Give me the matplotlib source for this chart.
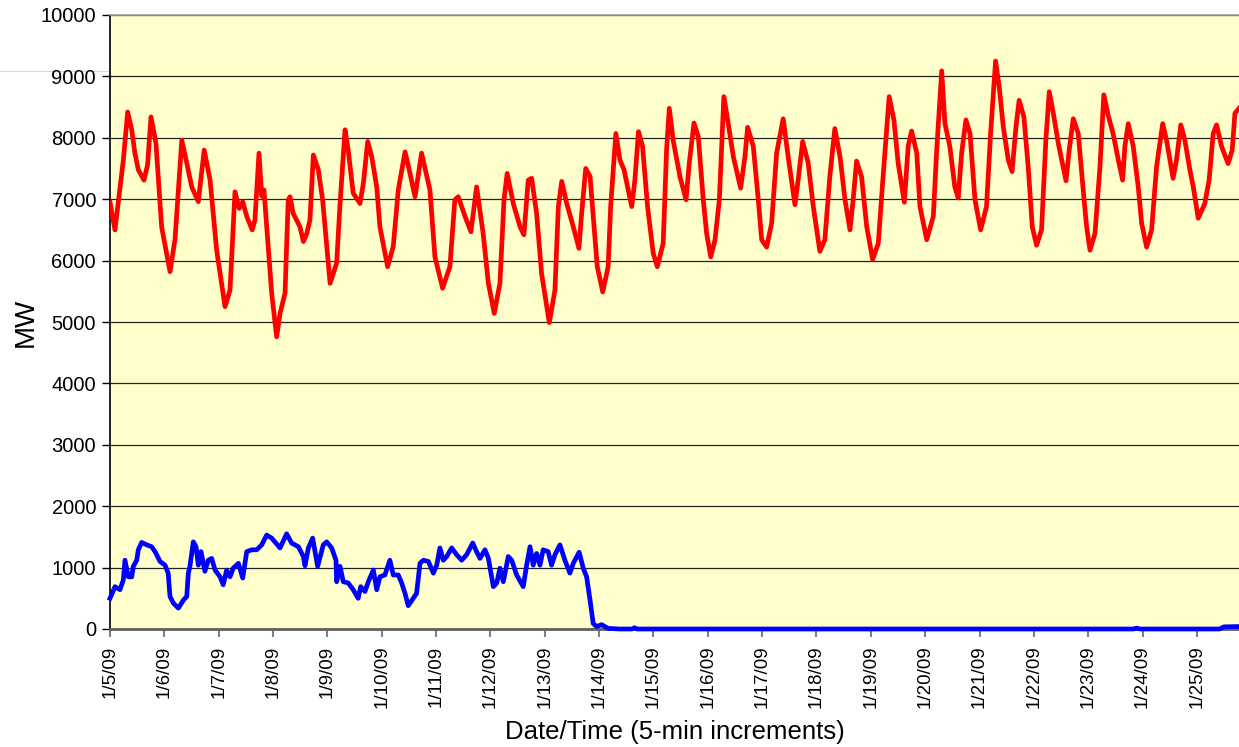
import matplotlib
matplotlib.use("Agg")
import matplotlib.pyplot as plt
from matplotlib.lines import Line2D

plt.rcParams['font.family'] = ['Liberation Sans', 'DejaVu Sans']

# Hours since 1/5/09 00:00 and load (MW)
red_hours = [0.0, 2.2, 5.9, 7.8, 9.6, 11.0, 12.5, 15.0, 16.6, 18.1, 20.3, 22.8, 26.5, 28.7, 31.7, 33.9,
             36.1, 39.0, 41.6, 44.2, 47.1, 50.8, 53.0, 55.2, 57.1, 58.6, 60.4, 62.8, 64.0, 65.8, 67.0, 68.0,
             69.2, 71.4, 73.6, 75.1, 77.3, 78.7, 79.5, 80.9, 83.9, 85.4, 86.9, 88.3, 89.8, 92.0, 93.9, 97.2,
             100.1, 101.6, 103.8, 105.2, 107.4, 110.4, 111.9, 113.8, 115.6, 117.8, 119.2, 122.6, 125.1, 127.3,
             130.3, 132.5, 134.7, 137.6, 141.3, 143.5, 146.9, 150.1, 152.3, 153.8, 156.8, 159.4, 161.9, 164.8,
             167.1, 169.7, 172.2, 174.0, 175.4, 178.1, 181.1, 182.8, 184.7, 186.2, 188.4, 190.6, 194.0, 196.5,
             198.0, 199.5, 201.7, 204.6, 207.1, 208.3, 210.1, 212.0, 213.4, 215.2, 217.6, 220.0, 221.1, 223.4,
             225.2, 227.0, 230.4, 231.8, 233.4, 235.2, 237.4, 239.9, 241.7, 244.3, 245.8, 247.0, 248.7, 251.7,
             254.4, 255.8, 257.9, 259.8, 262.0, 263.5, 265.3, 267.2, 269.1, 271.1, 273.0, 275.3, 278.5, 280.4,
             281.6, 284.1, 286.3, 287.8, 290.0, 292.2, 294.4, 297.3, 299.5, 302.5, 303.9, 305.9, 308.3, 310.6,
             313.5, 315.7, 317.9, 320.1, 322.4, 324.6, 326.8, 328.2, 329.7, 331.9, 334.2, 336.8, 339.3, 341.2,
             344.1, 346.2, 348.1, 350.8, 352.5, 354.0, 356.3, 357.7, 360.7, 363.6, 365.1, 367.3, 368.7, 370.9,
             373.1, 374.6, 376.1, 378.0, 379.8, 382.0, 384.5, 387.1, 388.9, 391.1, 392.7, 394.5, 396.7, 398.4,
             400.1, 401.5, 403.6, 405.5, 407.3, 409.2, 411.4, 413.3, 414.8, 416.6, 418.8, 422.2, 423.6, 425.4,
             427.6, 429.8, 431.3, 432.8, 435.0, 437.2, 438.9, 440.8, 443.0, 445.3, 447.2, 448.2, 449.7, 451.9,
             454.1, 455.6, 457.8, 460.0, 462.2, 464.9, 466.6, 469.5, 471.0, 472.9, 474.7, 476.9, 478.4, 480.6,
             483.5, 485.4, 487.2, 488.7, 490.9, 493.8, 495.6, 496.8, 498.6]
red_mw = [6950, 6500, 7640, 8420, 8130, 7750, 7480, 7310, 7560, 8340, 7910, 6550, 5820, 6340, 7960, 7590,
          7200, 6960, 7800, 7310, 6170, 5250, 5520, 7120, 6850, 6960, 6720, 6500, 6660, 7750, 7050, 7150,
          6550, 5470, 4760, 5140, 5470, 6990, 7040, 6770, 6550, 6310, 6440, 6660, 7720, 7480, 6990, 5630,
          5960, 6930, 8130, 7800, 7100, 6930, 7260, 7940, 7690, 7200, 6550, 5900, 6230, 7150,
          7770, 7420, 7040, 7750, 7150, 6060, 5550, 5900, 6990, 7040, 6720, 6470, 7200, 6440,
          5630, 5140, 5630, 6990, 7420, 6930, 6550, 6420, 7310, 7340, 6770, 5790, 4990, 5520,
          6880, 7290, 6930, 6550, 6200, 6770, 7500, 7370, 6720, 5900, 5490, 5900, 6880, 8070,
          7640, 7480, 6880, 7310, 8100, 7860, 6880, 6120, 5900, 6280, 7800, 8480, 7960, 7370,
          6990, 7580, 8240, 8020, 6990, 6440, 6060, 6340, 6990, 8670, 8240, 7690, 7180, 7690,
          8170, 7860, 6990, 6340, 6220, 6610, 7750, 8310, 7690, 6910, 7310, 7940, 7600, 6880,
          6150, 6340, 7370, 8150, 7690, 6990, 6500, 6990, 7620, 7370, 6550, 6020, 6280, 7260,
          8670, 8290, 7580, 6950, 7860, 8110, 7750, 6880, 6340, 6720, 7800, 9090, 8240, 7860,
          7200, 7020, 7750, 8290, 8070, 6990, 6500, 6880, 8070, 9250, 8830, 8180, 7640, 7450,
          8180, 8610, 8340, 7530, 6550, 6250, 6500, 7960, 8750, 8400, 7910, 7300, 7800, 8310,
          8070, 7150, 6550, 6170, 6440, 7530, 8700, 8370, 8070, 7640, 7310, 7860, 8230, 7860,
          7200, 6610, 6220, 6500, 7530, 8230, 7960, 7340, 7640, 8210, 7960, 7480, 7200, 6690,
          6930, 7310, 8070, 8210, 7860, 7580, 7800, 8400, 8480]

blue_hours = [0.0, 2.2, 4.4, 5.9, 6.6, 8.1, 9.6, 10.3, 11.8, 12.5, 14.0, 16.2, 18.4, 19.9, 22.1, 24.3,
              25.7, 26.5, 28.0, 30.2, 32.4, 33.9, 34.6, 35.3, 36.8, 38.0, 39.0, 40.2, 41.9, 43.4, 44.9, 46.4,
              48.6, 50.0, 51.5, 53.0, 54.4, 56.7, 58.6, 60.4, 62.6, 64.8, 67.0, 69.2, 71.4, 75.1, 78.0, 80.2,
              83.2, 85.4, 86.1, 87.6, 89.5, 91.7, 94.2, 95.7, 97.9, 99.8, 100.1, 101.6, 103.0, 105.2, 107.4,
              109.6, 110.7, 112.6, 114.1, 116.3, 117.8, 119.2, 121.4, 123.6, 125.1, 127.3, 128.8, 130.3, 131.7,
              133.9, 135.4, 136.9, 138.4, 140.6, 142.8, 144.3, 145.7, 147.2, 148.7, 150.9, 153.1, 155.3, 157.5,
              160.2, 161.9, 163.4, 165.6, 167.1, 169.3, 170.8, 172.2, 173.7, 175.9, 177.4, 179.6, 182.5, 184.0,
              185.5, 186.9, 188.4, 189.9, 191.3, 193.5, 195.0, 196.5, 198.7, 200.9, 203.1, 204.6, 207.2, 209.0,
              210.5, 212.0, 213.4, 214.9, 217.1, 220.0, 225.0, 230.5, 231.6, 232.8, 452.0, 453.4, 455.0, 490.0,
              492.0, 498.6]
blue_mw = [500, 690, 640, 800, 1120, 850, 850, 1020, 1120, 1290, 1410, 1370, 1340, 1260, 1100, 1040,
           910, 530, 420, 340, 470, 530, 910, 1020, 1420, 1340, 1040, 1260, 940, 1120, 1150, 960,
           850, 720, 960, 850, 990, 1070, 830, 1260, 1290, 1290, 1370, 1530, 1480, 1320, 1550, 1400,
           1340, 1180, 1030, 1320, 1480, 1020, 1370, 1420, 1320, 1120, 770, 1020, 770, 750, 640,
           500, 690, 610, 770, 960, 640, 850, 880, 1120, 880, 880, 750, 580, 380,
           500, 580, 1070, 1120, 1100, 910, 1040, 1320, 1120, 1180, 1320, 1210, 1120, 1210,
           1400, 1260, 1150, 1290, 1150, 690, 750, 990, 770, 1180, 1120, 880, 690, 1040,
           1340, 1040, 1230, 1040, 1290, 1260, 1040, 1210, 1370, 1120, 910, 1070, 1250, 990,
           850, 470, 90, 40, 70, 10, 0, 0, 20, 0, 0, 15, 0, 0,
           35, 40]

tick_hours = [0, 24, 48, 72, 96, 120, 144, 168, 192, 216, 240, 264, 288, 312, 336, 360, 384, 408, 432,
              456, 480]
tick_labels = ['1/5/09', '1/6/09', '1/7/09', '1/8/09', '1/9/09', '1/10/09', '1/11/09', '1/12/09',
               '1/13/09', '1/14/09', '1/15/09', '1/16/09', '1/17/09', '1/18/09', '1/19/09', '1/20/09',
               '1/21/09', '1/22/09', '1/23/09', '1/24/09', '1/25/09']
y_ticks = [0, 1000, 2000, 3000, 4000, 5000, 6000, 7000, 8000, 9000, 10000]

fig = plt.figure(figsize=(12.39, 7.47), dpi=100)
ax = fig.add_axes([110 / 1239, 1 - 629 / 747, 1 - 110 / 1239, (629 - 15) / 747])
ax.set_facecolor('#FFFFCC')

ax.plot(red_hours, red_mw, color='#FF0000', lw=3.4, solid_joinstyle='round', zorder=3)
ax.plot(blue_hours, blue_mw, color='#0000FF', lw=3.4, solid_joinstyle='round', zorder=3,
        clip_on=False)

ax.set_xlim(0, 498.6)
ax.set_ylim(0, 10000)
ax.set_yticks(y_ticks)
ax.set_yticklabels([str(v) for v in y_ticks], fontsize=14.5)
ax.set_xticks(tick_hours)
ax.set_xticklabels(tick_labels, rotation=90, fontsize=13.5)
ax.yaxis.grid(True, color='#222222', lw=0.9)
ax.set_axisbelow(True)

ax.tick_params(axis='y', direction='out', length=6, width=1, color='black', pad=4)
ax.tick_params(axis='x', direction='out', length=6, width=1.5, color='#808080', pad=6)

ax.spines['right'].set_visible(False)
ax.spines['top'].set_color('#A0A0A0')
ax.spines['top'].set_linewidth(1.2)
ax.spines['left'].set_color('black')
ax.spines['left'].set_linewidth(1.2)
ax.spines['bottom'].set_color('#606060')
ax.spines['bottom'].set_linewidth(2)

ax.set_ylabel('MW', fontsize=20, labelpad=1)
ax.set_xlabel('Date/Time (5-min increments)', fontsize=18.5, labelpad=8)

fig.add_artist(Line2D([0, 1], [1 - 70.5 / 747] * 2, transform=fig.transFigure,
                      color='#F0BE80', lw=0.8, alpha=0.7, zorder=0))

fig.savefig('out.png', dpi=100)
